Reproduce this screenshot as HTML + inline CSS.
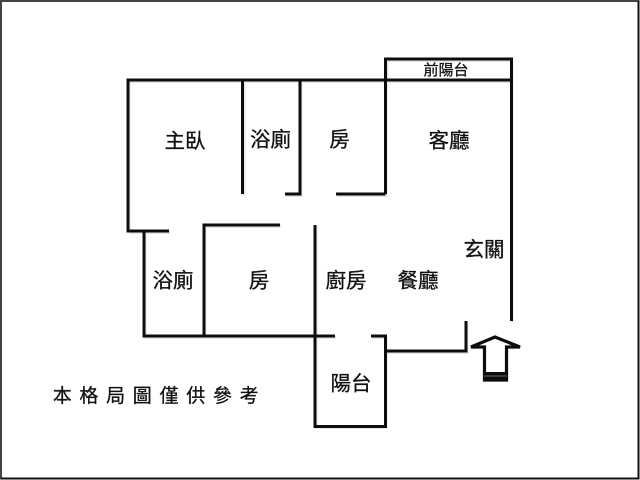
<!DOCTYPE html>
<html lang="zh-Hant">
<head>
<meta charset="utf-8">
<style>
html,body{margin:0;padding:0;background:#fff}
svg{display:block}
text{font-family:"Liberation Sans","Noto Sans CJK TC",sans-serif;fill:#111;stroke:#111;stroke-width:.3;text-anchor:middle}
</style>
</head>
<body>
<svg width="640" height="480" viewBox="0 0 640 480" xmlns="http://www.w3.org/2000/svg">
<defs>
<filter id="s" x="-5%" y="-5%" width="110%" height="110%"><feGaussianBlur stdDeviation="0.35"/></filter>
</defs>
<rect width="640" height="480" fill="#fff"/>
<!-- frame -->
<rect x="1" y="1" width="637.5" height="477.5" fill="none" stroke="#444" stroke-width="2"/>
<path d="M638.5 1V478.5H1" fill="none" stroke="#111" stroke-width="2"/>
<!-- shadow -->
<g fill="none" stroke="#aaa" stroke-width="3" opacity="0.3" transform="translate(1,1.5)" filter="url(#s)">
<path d="M128 231V80H511M386 80V59H511V321M243 80V194M300 80V194H285M385 80V194H336M128 231H169M144 231V336H335M204 336V225H280M315 225V426H385V336H371M385 351H466V321"/>
</g>
<!-- walls -->
<g fill="none" stroke="#0a0a0a" stroke-width="3" filter="url(#s)" stroke-linejoin="miter">
<path d="M169 231H128V80H386"/>
<path d="M385.500 194H336"/>
<path d="M385.500 194V59H511.500V321"/>
<path d="M385 80H511"/>
<path d="M242.500 80V194"/>
<path d="M285 194H300V80"/>
<path d="M144 231V336H335"/>
<path d="M280 225H204V336"/>
<path d="M315 225V426.500H385.500V336H371"/>
<path d="M385 351H466V321"/>
</g>
<!-- entry arrow -->
<g filter="url(#s)">
<path d="M495 337L471 347H484.500V380H506.500V347H520Z" fill="#fff" stroke="#0a0a0a" stroke-width="3.200" stroke-linejoin="miter"/>
<rect x="483.500" y="372" width="24" height="9" fill="#0a0a0a"/>
<rect x="484" y="375.500" width="23" height="1" fill="#666"/>
</g>
<!-- labels -->
<g font-size="20.500">
<text x="185" y="148">主臥</text>
<text x="270.500" y="146.500">浴廁</text>
<text x="339.500" y="146.500">房</text>
<text x="449" y="147.500">客廳</text>
<text x="484" y="256.500">玄關</text>
<text x="173" y="287.500">浴廁</text>
<text x="259" y="287.500">房</text>
<text x="346" y="287.500">廚房</text>
<text x="418" y="287.500">餐廳</text>
<text x="351" y="390.500">陽台</text>
</g>
<text x="446" y="75" font-size="15">前陽台</text>
<text x="159.500" y="402" font-size="19" letter-spacing="7.700">本格局圖僅供參考</text>
</svg>
</body>
</html>
